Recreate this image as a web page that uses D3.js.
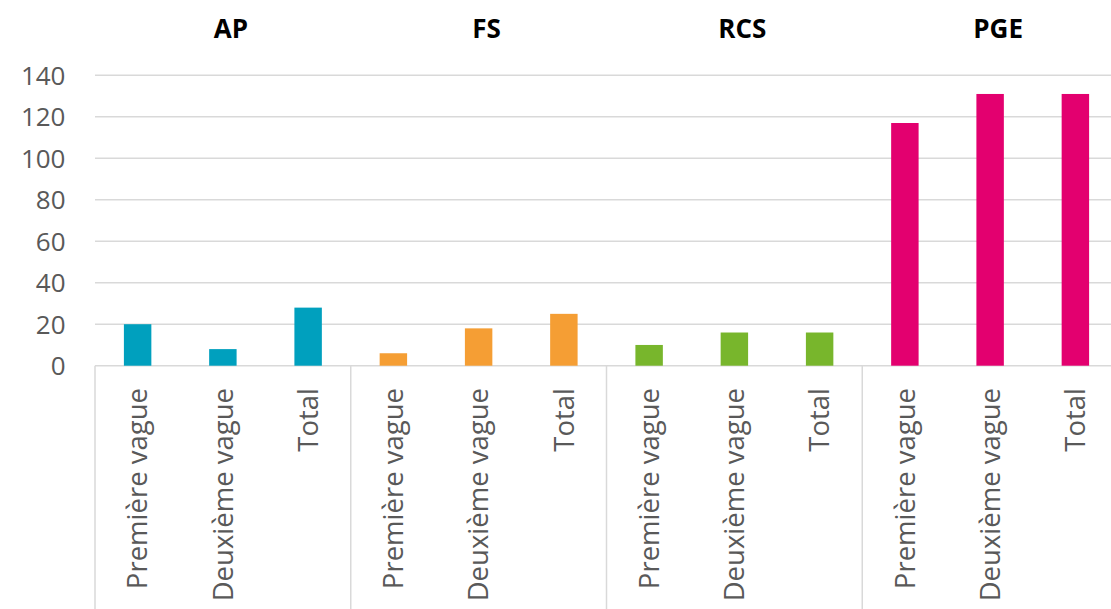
<!DOCTYPE html>
<html>
<head>
<meta charset="utf-8">
<script src="https://cdn.jsdelivr.net/npm/d3@7"></script>
<style>
    body { margin: 0; background: #fff; }
    svg { display: block; }
    .tick-y { font-family: "Open Sans", sans-serif; font-size: 26px; fill: #595959; }
    .cat { font-family: "Open Sans", sans-serif; font-size: 27.5px; fill: #595959; }
    .grp { font-family: "Open Sans", sans-serif; font-size: 26px; font-weight: bold; fill: #000; }
</style>
</head>
<body>
<svg width="1111" height="609"></svg>
<script>

// data
var groups = ['AP', 'FS', 'RCS', 'PGE'];
var categories = ['Première vague', 'Deuxième vague', 'Total'];
var apValues  = [20, 8, 28];
var fsValues  = [6, 18, 25];
var rcsValues = [10, 16, 16];
var pgeValues = [117, 131, 131];
var groupColors = ['#00a0be', '#f59e34', '#78b62c', '#e3006f'];
var yTicks = [0, 20, 40, 60, 80, 100, 120, 140];

function draw() {
    var values = [apValues, fsValues, rcsValues, pgeValues];
    var rows = [];
    groups.forEach(function(g, i) {
        categories.forEach(function(c, j) {
            rows.push({group: g, cat: c, value: values[i][j], color: groupColors[i]});
        });
    });

    var svg = d3.select('svg');
    var left = 95, right = 1118, plotTop = 75.3, plotBottom = 365.7;

    var x0 = d3.scaleBand().domain(groups).range([left, right]);
    var x1 = d3.scaleBand().domain(categories).range([0, x0.bandwidth()])
        .paddingInner(0.678).paddingOuter(0.339);
    var y = d3.scaleLinear().domain([0, 140]).range([plotBottom, plotTop]);

    // gridlines
    svg.append('g')
        .selectAll('line')
        .data(yTicks)
        .enter()
        .append('line')
        .attr('x1', left)
        .attr('x2', 1111)
        .attr('y1', function(d) { return y(d); })
        .attr('y2', function(d) { return y(d); })
        .attr('stroke', '#d9d9d9')
        .attr('stroke-width', 1.5);

    // y labels
    svg.append('g')
        .selectAll('text')
        .data(yTicks)
        .enter()
        .append('text')
        .attr('class', 'tick-y')
        .attr('x', 65.5)
        .attr('y', function(d) { return y(d); })
        .attr('dy', '0.36em')
        .attr('text-anchor', 'end')
        .text(function(d) { return d; });

    // group separators
    svg.append('g')
        .selectAll('line')
        .data(groups)
        .enter()
        .append('line')
        .attr('x1', function(d) { return x0(d); })
        .attr('x2', function(d) { return x0(d); })
        .attr('y1', plotBottom)
        .attr('y2', 609)
        .attr('stroke', '#d9d9d9')
        .attr('stroke-width', 1.5);

    // bars
    svg.append('g')
        .selectAll('rect')
        .data(rows)
        .enter()
        .append('rect')
        .attr('x', function(d) { return x0(d.group) + x1(d.cat); })
        .attr('y', function(d) { return y(d.value); })
        .attr('width', x1.bandwidth())
        .attr('height', function(d) { return y(0) - y(d.value); })
        .attr('fill', function(d) { return d.color; });

    // category labels, rotated
    svg.append('g')
        .selectAll('text')
        .data(rows)
        .enter()
        .append('text')
        .attr('class', 'cat')
        .attr('text-anchor', 'end')
        .attr('dy', '0.35em')
        .attr('transform', function(d) {
            var cx = x0(d.group) + x1(d.cat) + x1.bandwidth() / 2;
            return 'translate(' + cx + ',388) rotate(-90)';
        })
        .text(function(d) { return d.cat; });

    // group titles
    svg.append('g')
        .selectAll('text')
        .data(groups)
        .enter()
        .append('text')
        .attr('class', 'grp')
        .attr('x', function(d) { return x0(d) + x0.bandwidth() / 2 + 8; })
        .attr('y', 38)
        .attr('text-anchor', 'middle')
        .text(function(d) { return d; });
}
draw();

</script>
</body>
</html>
